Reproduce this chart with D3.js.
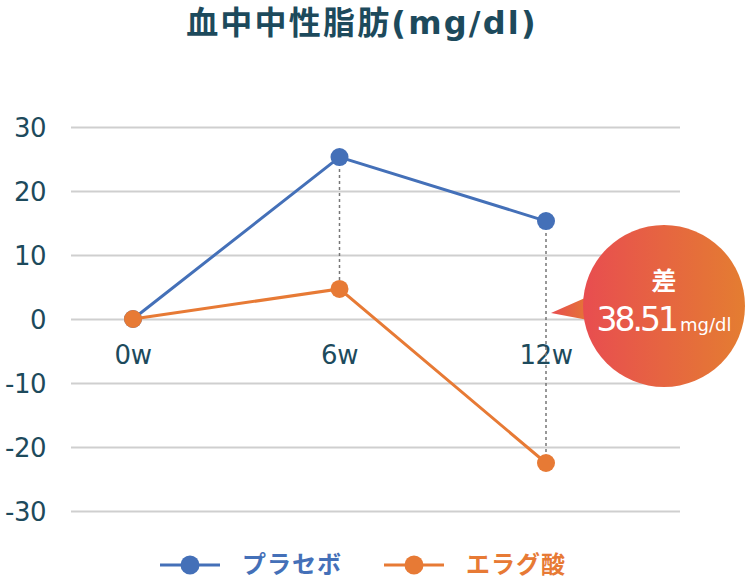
<!DOCTYPE html>
<html>
<head>
<meta charset="utf-8">
<script src="https://cdn.jsdelivr.net/npm/d3@7"></script>
<style>
  body { margin: 0; background: #fff; }
  text { font-family: "DejaVu Sans", "Noto Sans CJK JP", sans-serif; }
</style>
</head>
<body>
<div id="chart"></div>
<script>
var weeks = ["0w", "6w", "12w"];
var placebo = [0, 25.3, 15.3];
var ellagic = [0, 4.7, -22.5];
var yTicks = [30, 20, 10, 0, -10, -20, -30];
var seriesNames = ["プラセボ", "エラグ酸"];
var seriesColors = ["#4470b8", "#e77a35"];
var diffLabel = "38.51";

var width = 748, height = 578;
var textColor = "#1d4a5c";

var svg = d3.select("#chart").append("svg")
    .attr("width", width)
    .attr("height", height);

var x = d3.scalePoint().domain(weeks).range([133, 546]);
var y = d3.scaleLinear().domain([-30, 30]).range([511, 127]);

// title
svg.append("text")
  .text("血中中性脂肪(mg/dl)")
  .attr("x", 362)
  .attr("y", 34)
  .attr("text-anchor", "middle")
  .attr("font-size", 32)
  .attr("font-weight", "bold")
  .attr("letter-spacing", 2.2)
  .attr("fill", textColor);

// grid
var yAxis = d3.axisLeft(y).tickValues(yTicks).tickSize(-609).tickPadding(25)
  .tickFormat(function(d){ return String(d); });
var ga = svg.append("g")
  .attr("transform", "translate(71,0)")
  .call(yAxis);
ga.select(".domain").remove();
ga.selectAll(".tick line").attr("stroke", "#cfcfcf").attr("stroke-width", 2);
ga.selectAll(".tick text")
  .attr("fill", textColor)
  .attr("font-size", 26)
  .attr("font-family", "'DejaVu Sans', sans-serif")
  .attr("letter-spacing", -0.5)
  .attr("dy", "0.36em");

// x labels under zero line
svg.selectAll(".xlab")
  .data(weeks)
  .enter().append("text")
  .attr("class", "xlab")
  .text(function(d){ return d; })
  .attr("x", function(d){ return x(d); })
  .attr("y", y(0) + 45)
  .attr("text-anchor", "middle")
  .attr("font-size", 26)
  .attr("letter-spacing", -0.5)
  .attr("fill", textColor);

// dotted connectors
svg.selectAll(".conn")
  .data([1, 2])
  .enter().append("line")
  .attr("x1", function(i){ return x(weeks[i]); })
  .attr("x2", function(i){ return x(weeks[i]); })
  .attr("y1", function(i){ return y(placebo[i]); })
  .attr("y2", function(i){ return y(ellagic[i]); })
  .attr("stroke", "#777")
  .attr("stroke-width", 1.5)
  .attr("stroke-dasharray", "3,3");

var line = d3.line()
  .x(function(d, i){ return x(weeks[i]); })
  .y(function(d){ return y(d); });

[placebo, ellagic].forEach(function(s, k) {
  svg.append("path")
    .datum(s)
    .attr("d", line)
    .attr("fill", "none")
    .attr("stroke", seriesColors[k])
    .attr("stroke-width", 3);
  svg.selectAll(".pt" + k)
    .data(s)
    .enter().append("circle")
    .attr("cx", function(d, i){ return x(weeks[i]); })
    .attr("cy", function(d){ return y(d); })
    .attr("r", 9)
    .attr("fill", seriesColors[k]);
});

// difference bubble
var grad = svg.append("defs").append("linearGradient")
  .attr("id", "bub")
  .attr("x1", "0%").attr("x2", "100%").attr("y1", "0%").attr("y2", "0%");
grad.append("stop").attr("offset", "0%").attr("stop-color", "#e84d50");
grad.append("stop").attr("offset", "100%").attr("stop-color", "#e47d31");

var bx = 664, by = 306, br = 81;
var bubble = svg.append("g");
bubble.append("path")
  .attr("d", "M" + (x("12w") + 5) + " " + (y(0) - 6) + " L " + (bx - 70) + " " + (by - 12) + " L " + (bx - 76) + " " + (by + 14) + " Z")
  .attr("fill", "url(#bub)");
bubble.append("circle")
  .attr("cx", bx).attr("cy", by).attr("r", br)
  .attr("fill", "url(#bub)");
bubble.append("text")
  .text("差")
  .attr("x", bx)
  .attr("y", 290)
  .attr("text-anchor", "middle")
  .attr("font-size", 25)
  .attr("font-weight", "bold")
  .attr("font-family", "'Noto Sans CJK JP', sans-serif")
  .attr("fill", "#fff");
var vt = bubble.append("text")
  .attr("x", bx)
  .attr("y", 331)
  .attr("text-anchor", "middle")
  .attr("fill", "#fff");
vt.append("tspan").text(diffLabel)
  .attr("font-size", 33)
  .attr("letter-spacing", -3);
vt.append("tspan").text("mg/dl")
  .attr("font-size", 18)
  .attr("dx", 4);

// legend
var legX = [160, 384];
seriesNames.forEach(function(name, k) {
  var g = svg.append("g").attr("transform", "translate(" + legX[k] + ",565)");
  g.append("line").attr("x1", 0).attr("x2", 60)
    .attr("stroke", seriesColors[k]).attr("stroke-width", 3);
  g.append("circle").attr("cx", 30).attr("r", 9.5).attr("fill", seriesColors[k]);
  g.append("text").text(name)
    .attr("x", 82).attr("y", 0)
    .attr("dy", "0.35em")
    .attr("font-size", 24)
    .attr("font-weight", "bold")
    .attr("letter-spacing", 1)
    .attr("font-family", "'Noto Sans CJK JP', sans-serif")
    .attr("fill", seriesColors[k]);
});
</script>
</body>
</html>
